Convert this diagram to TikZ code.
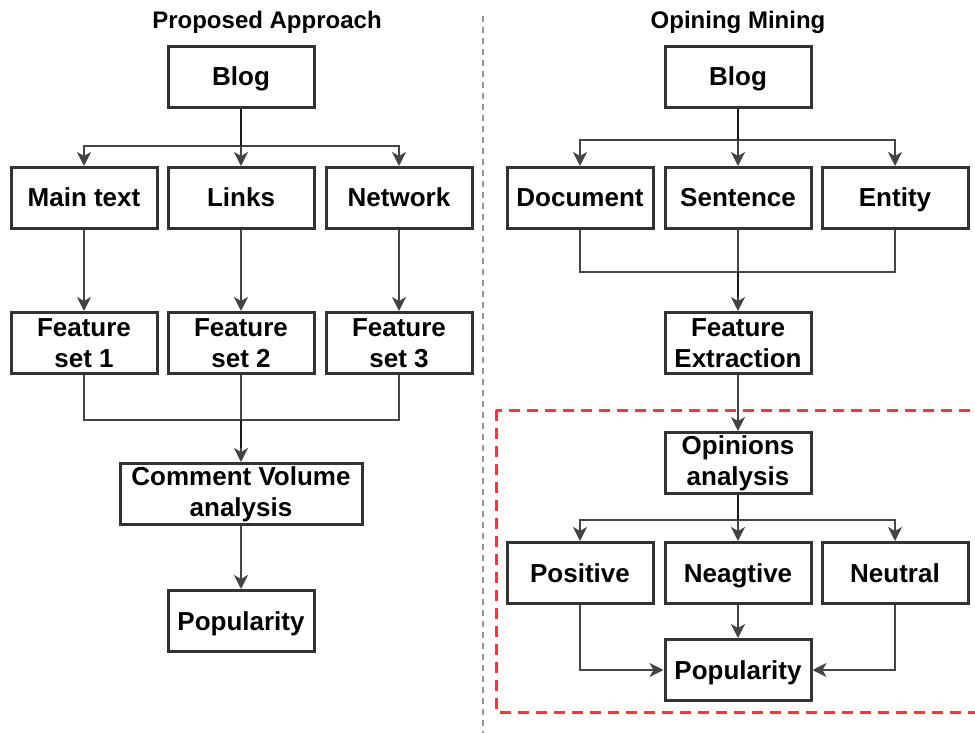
\documentclass[tikz,border=0pt]{standalone}
\usepackage{fontspec}
\setmainfont{Liberation Sans}
\usetikzlibrary{arrows.meta}
\definecolor{boxline}{HTML}{333333}
\definecolor{wire}{HTML}{444444}
\definecolor{hilite}{HTML}{FF3333}
\tikzset{
  boxbase/.style={draw=boxline, line width=3pt, fill=white, rectangle,
    minimum width=146pt, minimum height=61pt, inner sep=2pt, align=center,
    font=\fontsize{26}{31}\selectfont\bfseries},
  stepbox/.style={boxbase, text height=22pt, text depth=4pt},
  twoline/.style={boxbase},
  wide/.style={minimum width=242pt},
  title/.style={font=\fontsize{24}{28}\selectfont\bfseries},
  wireline/.style={draw=wire, line width=2pt},
  trunk/.style={draw=black!90, line width=2.8pt},
  flow/.style={wireline, -{Stealth[length=14pt,width=14pt,inset=4pt]}},
}
\begin{document}
\begin{tikzpicture}[x=1pt, y=-1pt]
\useasboundingbox (0,0) rectangle (975,733);

% separator between the two pipelines
\draw[draw=gray!85, line width=2.5pt, dash pattern=on 6pt off 5pt] (483,16) -- (483,733);

% ---------- left: proposed approach ----------
\node[title] (ttlL) at (267,22) {Proposed Approach};
\node[stepbox] (blogL) at (241,77) {Blog};
\node[stepbox] (main) at (84,198) {Main text};
\node[stepbox] (links) at (241,198) {Links};
\node[stepbox] (net) at (399,198) {Network};
\node[twoline] (fs1) at (84,343) {Feature\\set 1};
\node[twoline] (fs2) at (241,343) {Feature\\set 2};
\node[twoline] (fs3) at (399,343) {Feature\\set 3};
\node[twoline, wide] (cva) at (241,494) {Comment Volume\\analysis};
\node[stepbox] (popL) at (241,621) {Popularity};

\draw[flow] (blogL.south) -- ++(0,37) -| (main.north);
\draw[flow] (blogL.south) -- ++(0,37) -| (net.north);
\draw[flow] (blogL.south) -- (links.north);
\draw[trunk] (blogL.south) -- ++(0,37);
\draw[flow] (main.south) -- (fs1.north);
\draw[flow] (links.south) -- (fs2.north);
\draw[flow] (net.south) -- (fs3.north);
\draw[wireline] (fs1.south) -- ++(0,45) -| (fs3.south);
\draw[flow] (fs2.south) -- (cva.north);
\draw[trunk] (fs2.south) ++(0,45) -- ([yshift=14pt]cva.north);
\draw[flow] (cva.south) -- (popL.north);

% ---------- right: opinion mining ----------
\node[title] (ttlR) at (738,22) {Opining Mining};
\node[stepbox] (blogR) at (738,77) {Blog};
\node[stepbox] (doc) at (580,198) {Document};
\node[stepbox] (sent) at (738,198) {Sentence};
\node[stepbox] (ent) at (895,198) {Entity};
\node[twoline] (fx) at (738,343) {Feature\\Extraction};

\draw[draw=hilite, line width=3pt, dash pattern=on 11pt off 7pt] (496,410) rectangle (980,712);

\node[twoline] (op) at (738,463) {Opinions\\analysis};
\node[stepbox] (pos) at (580,573) {Positive};
\node[stepbox] (neg) at (738,573) {Neagtive};
\node[stepbox] (neu) at (895,573) {Neutral};
\node[stepbox] (popR) at (738,670) {Popularity};

\draw[flow] (blogR.south) -- ++(0,31) -| (doc.north);
\draw[flow] (blogR.south) -- ++(0,31) -| (ent.north);
\draw[flow] (blogR.south) -- (sent.north);
\draw[trunk] (blogR.south) -- ++(0,31);
\draw[wireline] (doc.south) -- ++(0,42) -| (ent.south);
\draw[flow] (sent.south) -- (fx.north);
\draw[trunk] (sent.south) ++(0,42) -- ([yshift=14pt]fx.north);
\draw[flow] (fx.south) -- (op.north);
\draw[flow] (op.south) -- ++(0,25) -| (pos.north);
\draw[flow] (op.south) -- ++(0,25) -| (neu.north);
\draw[flow] (op.south) -- (neg.north);
\draw[trunk] (op.south) -- ++(0,25);
\draw[flow] (neg.south) -- (popR.north);
\draw[flow] (pos.south) |- (popR.west);
\draw[flow] (neu.south) |- (popR.east);
\end{tikzpicture}
\end{document}
